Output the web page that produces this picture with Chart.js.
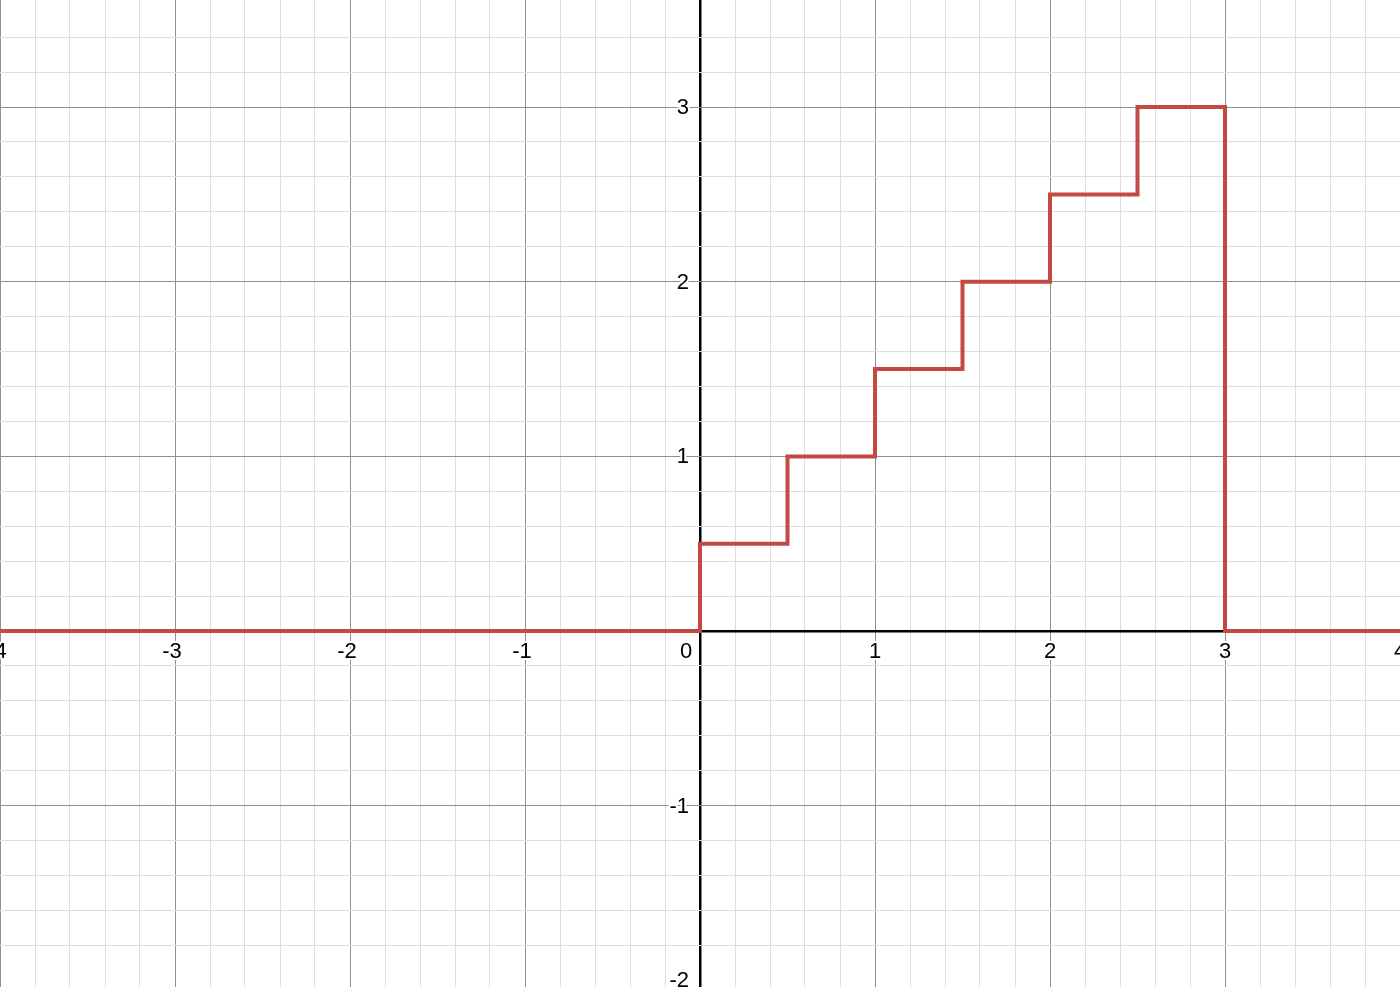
<!DOCTYPE html>
<html>
<head>
<meta charset="utf-8">
<script src="https://cdn.jsdelivr.net/npm/chart.js@4"></script>
<style>
  html, body { margin: 0; padding: 0; background: #fff; overflow: hidden; }
</style>
</head>
<body>
<canvas id="graph" width="1400" height="987"></canvas>
<script>
// step function f(x): 0 before 0, climbs by 0.5 every half unit, back to 0 at 3
const stepX = [-4, 0, 0, 0.5, 1, 1.5, 2, 2.5, 3, 3, 4];
const stepY = [0, 0, 0.5, 1, 1.5, 2, 2.5, 3, 3, 0, 0];

const xTickLabels = [-4, -3, -2, -1, 1, 2, 3, 4];
const yTickLabels = [-2, -1, 1, 2, 3];

const isWhole = v => Math.abs(v - Math.round(v)) < 1e-6;
const isFifth = v => Math.abs(v * 5 - Math.round(v * 5)) < 1e-6;

function gridColor(ctx) {
  const v = ctx.tick ? ctx.tick.value : 0;
  if (!isFifth(v)) return 'rgba(0,0,0,0)';
  if (Math.abs(v) < 1e-6) return '#000';
  return isWhole(v) ? '#8f8f8f' : '#dedede';
}
function gridWidth(ctx) {
  const v = ctx.tick ? ctx.tick.value : 0;
  return Math.abs(v) < 1e-6 ? 2.5 : 1;
}

// axis numbers drawn at the origin like a graphing calculator
const axisLabels = {
  id: 'axisLabels',
  afterDraw(chart) {
    const { ctx, scales: { x, y } } = chart;
    const x0 = x.getPixelForValue(0);
    const y0 = y.getPixelForValue(0);
    ctx.save();
    ctx.font = '22px "Liberation Sans", Arial, sans-serif';
    ctx.fillStyle = '#000';
    ctx.strokeStyle = '#fff';
    ctx.lineWidth = 4;
    ctx.lineJoin = 'round';
    const put = (t, px, py) => { ctx.strokeText(t, px, py); ctx.fillText(t, px, py); };

    ctx.textAlign = 'center';
    ctx.textBaseline = 'middle';
    xTickLabels.forEach(v => {
      const t = v < 0 ? '-' + Math.abs(v) : String(v);
      put(t, x.getPixelForValue(v) - (v < 0 ? 3 : 0), y0 + 21);
    });
    put('0', x0 - 14, y0 + 21);

    ctx.textAlign = 'right';
    yTickLabels.forEach(v => {
      const t = v < 0 ? '-' + Math.abs(v) : String(v);
      put(t, x0 - 11, y.getPixelForValue(v) + 1);
    });
    ctx.restore();
  }
};

new Chart(document.getElementById('graph'), {
  type: 'scatter',
  data: {
    datasets: [{
      data: stepX.map((v, i) => ({ x: v, y: stepY[i] })),
      showLine: true,
      stepped: 'before',
      borderColor: '#c44843',
      borderWidth: 4,
      pointRadius: 0,
      fill: false
    }]
  },
  options: {
    responsive: false,
    animation: false,
    layout: { padding: 0 },
    plugins: { legend: { display: false }, tooltip: { enabled: false } },
    scales: {
      x: {
        type: 'linear',
        min: -4,
        max: 4,
        border: { display: false },
        ticks: { display: false, stepSize: 0.2 },
        grid: { color: gridColor, lineWidth: gridWidth, drawTicks: false }
      },
      y: {
        type: 'linear',
        min: -2.038,
        max: 3.613,
        border: { display: false },
        ticks: { display: false, stepSize: 0.2 },
        grid: { color: gridColor, lineWidth: gridWidth, drawTicks: false }
      }
    }
  },
  plugins: [axisLabels]
});
</script>
</body>
</html>
